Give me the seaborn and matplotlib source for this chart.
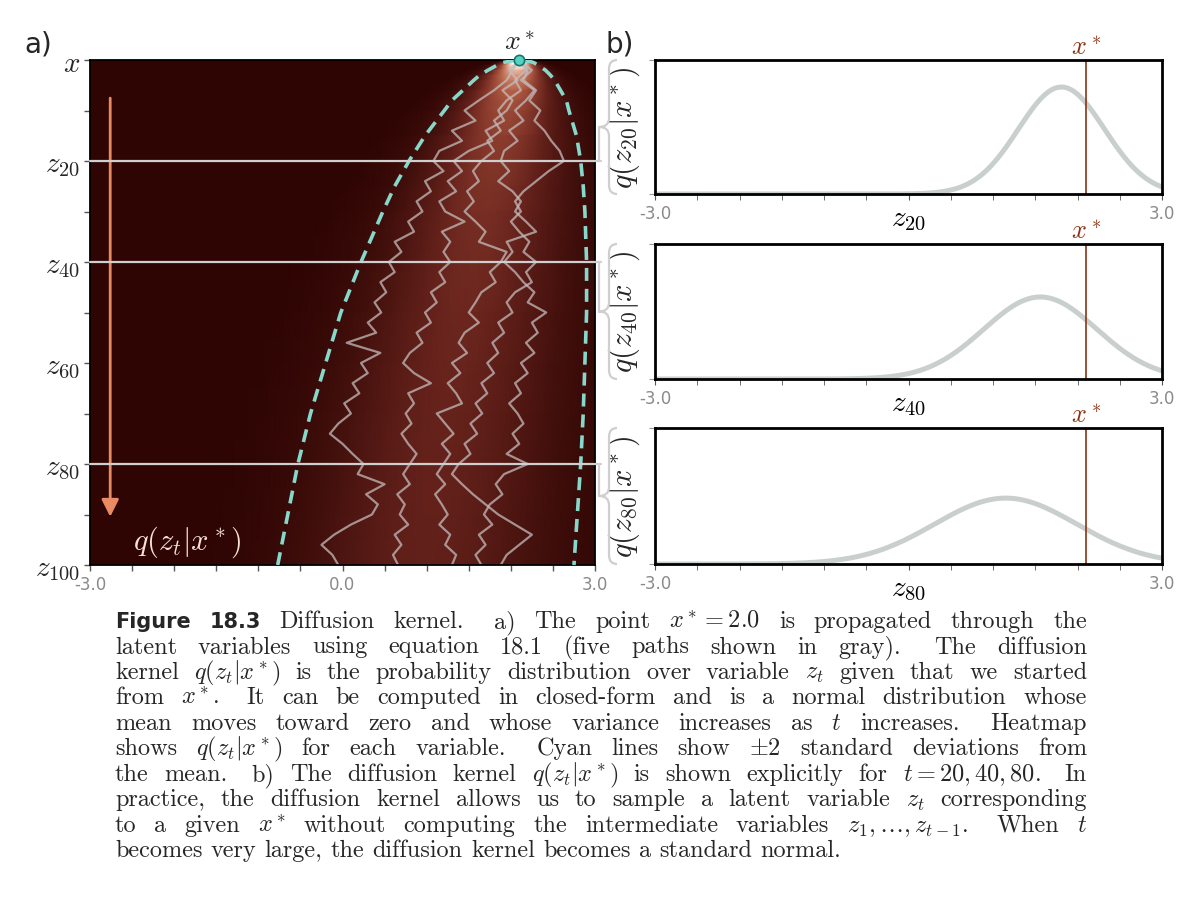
import numpy as np
import matplotlib
matplotlib.use("Agg")
import matplotlib.pyplot as plt
import seaborn as sns
from matplotlib.colors import LinearSegmentedColormap, PowerNorm
from matplotlib.path import Path
from matplotlib.patches import PathPatch
from matplotlib.lines import Line2D

# values
x_star = 2.1
kernel_t = [0.25, 0.5, 1, 2, 3, 4, 6, 8, 10, 15, 20, 25, 30, 40, 50, 60, 70, 80, 90, 100]
kernel_mean = [2.10, 2.09, 2.08, 2.07, 2.05, 2.04, 2.01, 1.98, 1.95, 1.88, 1.81, 1.74,
               1.68, 1.56, 1.44, 1.34, 1.24, 1.15, 1.07, 0.99]
kernel_std = [0.06, 0.09, 0.12, 0.17, 0.21, 0.24, 0.29, 0.34, 0.37, 0.45, 0.51, 0.56,
              0.60, 0.67, 0.73, 0.77, 0.81, 0.84, 0.86, 0.88]
panel_t = [20, 40, 80]

# five sample paths, every second step
path_t = list(range(0, 101, 2))
path_a = [2.10, 2.02, 1.95, 1.80, 1.62, 1.45, 1.58, 1.30, 1.42, 1.15, 1.08, 1.20, 0.98, 1.05,
          0.88, 0.95, 0.78, 0.85, 0.62, 0.70, 0.55, 0.62, 0.45, 0.52, 0.38, 0.46, 0.30, 0.40,
          0.05, 0.45, 0.22, 0.30, 0.12, 0.20, 0.02, 0.10, -0.05, -0.15, 0.00, 0.12, 0.25, 0.18,
          0.50, 0.28, 0.42, 0.35, 0.10, -0.10, -0.25, -0.12, -0.05]
path_b = [2.10, 2.18, 2.05, 2.12, 1.95, 1.85, 1.92, 1.70, 1.78, 1.50, 1.32, 1.42, 1.25, 1.35,
          1.15, 1.22, 1.45, 1.18, 1.28, 1.20, 1.28, 1.15, 1.22, 1.05, 1.12, 0.98, 1.05, 0.88,
          0.95, 0.80, 0.72, 0.85, 1.05, 0.78, 0.85, 0.75, 0.82, 0.70, 0.78, 0.88, 0.80, 0.72,
          0.80, 0.65, 0.74, 0.68, 0.78, 0.62, 0.70, 0.60, 0.66]
path_c = [2.10, 1.98, 2.08, 1.90, 2.02, 1.95, 1.80, 1.88, 1.72, 1.80, 1.65, 1.55, 1.62, 1.48,
          1.56, 1.45, 1.58, 1.70, 1.62, 1.95, 1.88, 1.75, 1.82, 1.65, 1.58, 1.50, 1.62, 1.45,
          1.38, 1.48, 1.30, 1.40, 1.25, 1.35, 1.42, 1.12, 1.22, 1.32, 1.18, 1.28, 1.20, 1.12,
          1.22, 1.10, 1.18, 1.25, 1.15, 1.28, 1.22, 1.35, 1.30]
path_d = [2.10, 2.20, 2.15, 2.30, 2.22, 2.35, 2.28, 2.40, 2.48, 2.58, 2.63, 2.45, 2.30, 2.15,
          2.05, 2.12, 2.00, 2.10, 2.22, 2.15, 2.30, 2.18, 2.25, 2.05, 1.95, 2.02, 1.85, 1.92,
          1.78, 1.85, 1.72, 1.80, 1.65, 1.72, 1.58, 1.66, 1.52, 1.60, 1.45, 1.52, 1.38, 1.30,
          1.42, 1.55, 1.70, 1.85, 2.05, 2.25, 2.10, 1.95, 1.88]
path_e = [2.10, 2.25, 2.12, 2.28, 2.18, 2.05, 2.15, 1.98, 2.08, 1.92, 1.88, 1.98, 1.85, 2.02,
          2.12, 2.05, 2.18, 2.30, 1.95, 2.02, 1.92, 2.05, 2.15, 2.28, 2.20, 2.42, 2.25, 2.32,
          2.18, 2.28, 2.12, 2.20, 2.05, 2.12, 1.98, 2.08, 2.15, 2.02, 2.10, 1.95, 2.20, 1.92,
          1.82, 1.90, 1.75, 1.68, 1.78, 1.62, 1.70, 1.58, 1.65]
paths = [path_a, path_b, path_c, path_d, path_e]

caption_lines = [
    "Figure 18.3 Diffusion kernel.  a) The point $x^*=2.0$ is propagated through the",
    "latent variables using equation 18.1 (five paths shown in gray).  The diffusion",
    "kernel $q(z_t|x^*)$ is the probability distribution over variable $z_t$ given that we started",
    "from $x^*$.  It can be computed in closed-form and is a normal distribution whose",
    "mean moves toward zero and whose variance increases as $t$ increases.  Heatmap",
    "shows $q(z_t|x^*)$ for each variable.  Cyan lines show $\\pm2$ standard deviations from",
    "the mean.  b) The diffusion kernel $q(z_t|x^*)$ is shown explicitly for $t=20,40,80$.  In",
    "practice, the diffusion kernel allows us to sample a latent variable $z_t$ corresponding",
    "to a given $x^*$ without computing the intermediate variables $z_1,\\ldots,z_{t-1}$.  When $t$",
    "becomes very large, the diffusion kernel becomes a standard normal.",
]

sns.set_style("white")
plt.rcParams["font.family"] = ["DejaVu Sans"]
plt.rcParams["mathtext.fontset"] = "cm"

W, H = 1196, 920
fig = plt.figure(figsize=(W / 100, H / 100), dpi=100)


def fx(px):
    return px / W


def fy(py):
    return 1 - py / H


def box(x0, y0, x1, y1):
    return [fx(x0), fy(y1), fx(x1) - fx(x0), fy(y0) - fy(y1)]


gauss = lambda xx, m, s: np.exp(-0.5 * ((xx - m) / s) ** 2) / (s * np.sqrt(2 * np.pi))
xg = np.linspace(-3, 3, 301)

# ---- a) heatmap of q(z_t | x*)
ax = fig.add_axes(box(90, 61, 595, 566))
ax.set_facecolor("#2e0503")
dens = np.array([gauss(xg, m, s) for m, s in zip(kernel_mean, kernel_std)])
cmap = LinearSegmentedColormap.from_list(
    "kern", [(0, "#2e0503"), (0.22, "#62201a"), (0.35, "#86382a"), (0.5, "#ad5842"),
             (0.7, "#dc987c"), (1.0, "#fff6ee")])
ax.pcolormesh(xg, kernel_t, dens, shading="gouraud", cmap=cmap,
              norm=PowerNorm(0.8, vmin=0, vmax=3.0), rasterized=True)

for p in paths:
    sns.lineplot(x=p, y=path_t, orient="y", estimator=None, sort=False, ax=ax,
                 color="#c4bcbc", alpha=0.75, lw=1.6)

lo = [x_star] + [m - 2 * s for m, s in zip(kernel_mean, kernel_std)]
hi = [x_star] + [m + 2 * s for m, s in zip(kernel_mean, kernel_std)]
tt = [0] + kernel_t
ax.plot(lo[::-1] + hi[1:], tt[::-1] + tt[1:], color="#86d8cb", lw=2.6,
        dashes=(3.6, 2.2), zorder=4)

for t in panel_t:
    ax.plot([-3, 3.07], [t, t], color="#cfcfcf", lw=1.6, clip_on=False, zorder=5)

ax.annotate("", xy=(-2.76, 91), xytext=(-2.76, 7),
            arrowprops=dict(arrowstyle="-|>", color="#e98a62", lw=2, mutation_scale=26))
ax.text(-1.85, 95.3, "$q(z_t|x^*)$", color="#f6e2d2", fontsize=22, ha="center", va="center")
ax.scatter([x_star], [0], s=55, color="#55d3c2", edgecolor="#17756a", lw=1.2,
           zorder=6, clip_on=False)
ax.text(x_star, -1.0, "$x^*$", fontsize=20, ha="center", va="bottom")

ax.set_xlim(-3, 3)
ax.set_ylim(100, 0)
ax.set_xticks([-3, 0, 3])
ax.set_xticklabels(["-3.0", "0.0", "3.0"], color="#8a8a8a", fontsize=12)
ax.set_xticks(np.arange(-3, 3.01, 0.5), minor=True)
ax.set_yticks([0, 20, 40, 60, 80, 100])
ax.set_yticklabels(["$x$", "$z_{20}$", "$z_{40}$", "$z_{60}$", "$z_{80}$", "$z_{100}$"],
                   fontsize=21)
ax.set_yticks([10, 30, 50, 70, 90], minor=True)
ax.tick_params(which="both", direction="out", length=4, width=1, color="#555555",
               bottom=True, left=True, pad=3)
for sp in ax.spines.values():
    sp.set_color("black")
    sp.set_linewidth(1.3)

# ---- b) three slices
right_boxes = [(655, 61, 1162, 195), (655, 245, 1162, 380), (655, 429, 1162, 565)]
for t, rb in zip(panel_t, right_boxes):
    i = kernel_t.index(t)
    axr = fig.add_axes(box(*rb))
    sns.lineplot(x=xg, y=gauss(xg, kernel_mean[i], kernel_std[i]), ax=axr,
                 color="#c9cfcc", lw=3.6)
    axr.axvline(x_star, color="#8b3316", lw=1.2)
    axr.text(x_star, 1.0, "$x^*$", transform=axr.get_xaxis_transform(), ha="center",
             va="bottom", color="#8b3316", fontsize=19)
    axr.set_xlim(-3, 3)
    axr.set_ylim(0, 0.98)
    axr.set_xticks([-3, 0, 3])
    axr.set_xticklabels(["-3.0", "$z_{%d}$" % t, "3.0"], color="#8a8a8a", fontsize=12)
    lab = axr.get_xticklabels()[1]
    lab.set_color("black")
    lab.set_fontsize(21)
    axr.set_xticks(np.arange(-3, 3.01, 0.5), minor=True)
    axr.set_yticks([0, 0.98])
    axr.set_yticklabels([])
    axr.tick_params(axis="x", which="both", direction="out", length=4, color="#555555",
                    bottom=True, pad=3)
    axr.tick_params(axis="y", direction="out", length=4, color="#999999", left=True)
    axr.set_ylabel("$q(z_{%d}|x^*)$" % t, fontsize=22, labelpad=2)
    for sp in axr.spines.values():
        sp.set_color("black")
        sp.set_linewidth(2)

    # brace and connector from the heatmap line
    top, bot = rb[1], rb[3]
    mid = 0.5 * (top + bot)
    stem, tip, curl, r = 609, 599, 617, 9
    verts = [(curl, top), (stem, top), (stem, top + r), (stem, mid - r), (stem, mid), (tip, mid),
             (stem, mid), (stem, mid + r), (stem, bot - r), (stem, bot), (curl, bot)]
    codes = [Path.MOVETO, Path.CURVE3, Path.CURVE3, Path.LINETO, Path.CURVE3, Path.CURVE3,
             Path.CURVE3, Path.CURVE3, Path.LINETO, Path.CURVE3, Path.CURVE3]
    verts = [(fx(a), fy(b)) for a, b in verts]
    fig.add_artist(PathPatch(Path(verts, codes), transform=fig.transFigure, fill=False,
                             ec="#cfcfcf", lw=1.6))
    yl = ax.transData.transform((3, t))[1]
    fig.add_artist(Line2D([fx(tip), fx(tip)], [yl / H, fy(mid)], transform=fig.transFigure,
                          color="#cfcfcf", lw=1.6))

fig.text(fx(24), fy(52), "a)", fontsize=20, va="baseline")
fig.text(fx(606), fy(52), "b)", fontsize=20, va="baseline")

# ---- caption, justified like the book
renderer = fig.canvas.get_renderer()
x_left, x_right = 115, 1087
base0, step = 628, 25.5
cap_size = 17.5
for k, line in enumerate(caption_lines):
    words = line.split()
    items = []
    for j, w in enumerate(words):
        if k == 0 and j < 2:
            kw = dict(family="DejaVu Sans", weight="bold", fontsize=15)
        else:
            kw = dict(family="cmr10", fontsize=cap_size)
        items.append(fig.text(0, fy(base0 + k * step), w, va="baseline", **kw))
    widths = [it.get_window_extent(renderer).width for it in items]
    weights = [1.6 if w.endswith(".") else 1.0 for w in words[:-1]]
    last = k == len(caption_lines) - 1
    if last:
        unit = 8.2
    else:
        unit = (x_right - x_left - sum(widths)) / sum(weights)
    x = x_left
    for j, it in enumerate(items):
        it.set_x(fx(x))
        if j < len(weights):
            x += widths[j] + unit * weights[j]

fig.savefig("out.png", dpi=100)
